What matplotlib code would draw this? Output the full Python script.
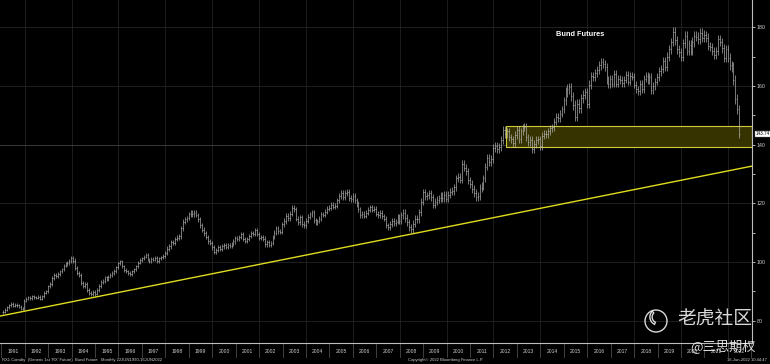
import matplotlib
matplotlib.use("Agg")
import matplotlib.pyplot as plt
import matplotlib.transforms as mtransforms
from matplotlib.patches import Rectangle, Circle, Arc

# ---------------- data ----------------
years = list(range(1991, 2023))
closes_1991 = [83.0, 83.8, 84.5, 85.3, 85.8, 85.0, 85.5, 85.2, 84.8, 84.0, 84.3, 86.8]
closes_1992 = [87.5, 88.0, 87.6, 88.3, 88.0, 87.8, 88.2, 87.5, 88.4, 89.5, 90.0, 91.8]
closes_1993 = [92.5, 94.5, 95.6, 95.2, 96.0, 96.8, 97.5, 98.8, 99.4, 99.6, 100.4, 101.5]
closes_1994 = [100.5, 98.0, 96.3, 95.5, 93.0, 91.8, 92.4, 90.5, 89.5, 89.0, 89.8, 89.2]
closes_1995 = [90.5, 91.8, 93.2, 93.5, 94.8, 94.3, 95.0, 95.6, 96.3, 97.0, 98.2, 99.5]
closes_1996 = [100.2, 98.5, 97.2, 96.8, 96.3, 96.0, 96.8, 97.5, 98.5, 99.8, 100.6, 101.2]
closes_1997 = [101.8, 102.4, 100.8, 100.2, 101.0, 100.8, 101.5, 100.4, 101.2, 101.6, 102.0, 103.2]
closes_1998 = [104.5, 105.3, 106.8, 106.5, 107.8, 108.3, 108.8, 111.5, 113.8, 114.5, 115.0, 116.2]
closes_1999 = [117.0, 116.2, 116.8, 116.0, 114.5, 112.5, 111.0, 109.8, 108.5, 107.0, 106.5, 105.0]
closes_2000 = [103.5, 104.2, 105.0, 104.5, 105.3, 105.8, 105.2, 105.8, 105.5, 106.2, 107.0, 108.2]
closes_2001 = [108.0, 108.6, 109.5, 107.8, 107.2, 107.8, 108.8, 109.8, 109.5, 110.8, 109.5, 108.3]
closes_2002 = [108.5, 108.0, 106.0, 106.8, 105.8, 106.5, 108.5, 110.0, 111.5, 110.5, 110.2, 113.0]
closes_2003 = [114.0, 115.8, 115.0, 116.5, 118.5, 118.0, 114.8, 113.5, 115.2, 113.0, 112.5, 114.0]
closes_2004 = [115.5, 116.3, 117.0, 114.2, 113.5, 114.0, 114.8, 116.2, 116.0, 117.2, 118.2, 118.5]
closes_2005 = [119.5, 118.8, 119.2, 121.0, 122.5, 123.6, 122.2, 123.5, 124.0, 121.8, 121.5, 122.5]
closes_2006 = [121.0, 119.8, 118.0, 116.0, 116.5, 115.8, 116.8, 117.8, 118.6, 117.8, 118.2, 116.5]
closes_2007 = [116.0, 116.8, 115.6, 114.8, 112.5, 111.8, 113.0, 114.0, 113.2, 113.8, 115.6, 114.0]
closes_2008 = [116.0, 116.8, 115.0, 113.5, 111.8, 111.2, 113.0, 114.8, 114.5, 117.0, 120.5, 123.8]
closes_2009 = [122.5, 122.8, 123.5, 122.0, 119.5, 120.5, 121.2, 121.8, 122.5, 121.8, 123.0, 121.5]
closes_2010 = [123.0, 124.0, 124.2, 125.5, 128.5, 129.0, 128.0, 133.5, 132.2, 131.0, 127.8, 126.5]
closes_2011 = [124.8, 123.5, 122.2, 122.5, 125.2, 126.0, 128.5, 132.5, 135.5, 134.0, 135.2, 138.8]
closes_2012 = [139.5, 138.5, 139.2, 141.5, 145.0, 143.5, 144.5, 142.5, 141.8, 140.5, 143.2, 145.0]
closes_2013 = [142.0, 144.5, 145.8, 146.0, 142.5, 141.0, 141.6, 138.5, 140.2, 141.5, 141.8, 139.5]
closes_2014 = [143.0, 143.8, 143.5, 144.5, 145.6, 146.0, 147.8, 149.5, 149.0, 150.5, 152.0, 155.2]
closes_2015 = [158.0, 159.0, 159.5, 156.5, 153.5, 149.5, 154.0, 152.5, 155.8, 157.0, 157.8, 154.0]
closes_2016 = [160.5, 163.5, 163.0, 164.5, 165.5, 167.0, 168.0, 167.5, 166.5, 162.0, 160.8, 162.5]
closes_2017 = [160.8, 164.0, 160.8, 162.5, 162.0, 161.0, 162.2, 163.8, 161.5, 163.5, 163.2, 160.5]
closes_2018 = [158.8, 158.2, 160.6, 159.0, 162.5, 163.3, 162.0, 163.0, 158.5, 160.0, 161.5, 163.2]
closes_2019 = [165.0, 165.8, 168.5, 166.5, 170.0, 172.5, 175.0, 178.5, 175.5, 172.5, 171.5, 170.0]
closes_2020 = [174.5, 177.0, 172.0, 174.0, 172.0, 175.0, 177.0, 176.8, 176.0, 178.0, 176.5, 177.4]
closes_2021 = [176.5, 173.5, 173.3, 171.8, 170.5, 172.0, 176.0, 175.0, 172.8, 169.5, 172.5, 169.5]
closes_2022 = [167.0, 166.5, 162.0, 155.5, 152.0, 143.74]
first_open = 82.8
# typical extension of monthly high/low beyond open/close, per year
wick_by_year = [0.5, 0.5, 0.6, 0.7, 0.6, 0.6, 0.6, 0.8, 0.8, 0.7, 0.7, 0.8,
                0.9, 0.8, 0.9, 0.9, 0.9, 1.2, 1.2, 1.2, 1.3, 1.3, 1.3, 1.2,
                1.6, 1.4, 1.3, 1.3, 1.5, 1.6, 1.4, 1.6]

y_major = [80, 100, 120, 140, 160, 180]
y_minor = [90, 110, 130, 150, 170]
last_price = 143.74
box_x_start = 2012.53
box_low, box_high = 139.2, 146.4
trend_x = [1990.9, 2023.1]
trend_y = [81.5, 132.8]

title = "Bund Futures"
footer_left = "RX1 Comdty  (Generic 1st 'RX' Future)  Bund Future   Monthly 22JUN1990-16JUN2022"
footer_mid = "Copyright\u00a9 2022 Bloomberg Finance L.P."
footer_right = "16-Jun-2022 10:44:47"
wm_main = "老虎社区"
wm_sub = "@三思期权"

# ---------------- build OHLC ----------------
all_closes = [closes_1991, closes_1992, closes_1993, closes_1994, closes_1995, closes_1996,
              closes_1997, closes_1998, closes_1999, closes_2000, closes_2001, closes_2002,
              closes_2003, closes_2004, closes_2005, closes_2006, closes_2007, closes_2008,
              closes_2009, closes_2010, closes_2011, closes_2012, closes_2013, closes_2014,
              closes_2015, closes_2016, closes_2017, closes_2018, closes_2019, closes_2020,
              closes_2021, closes_2022]
T, O, H, L, C = [], [], [], [], []
prev = first_open
for yi, (yr, cl) in enumerate(zip(years, all_closes)):
    w = wick_by_year[yi]
    for m, c in enumerate(cl, start=1):
        T.append(yr + m / 12 - 0.01)
        O.append(prev)
        C.append(c)
        H.append(max(prev, c) + w)
        L.append(min(prev, c) - w)
        prev = c

# ---------------- figure ----------------
plt.rcParams['font.family'] = ['Liberation Sans', 'DejaVu Sans']
W, Hh = 770, 364
fig = plt.figure(figsize=(W / 100, Hh / 100), dpi=100, facecolor='black')
ax = fig.add_axes([0, 21 / Hh, 752 / W, 343 / Hh])
ax.set_facecolor('black')
ax.set_xlim(1990.945, 2023.03)
ax.set_ylim(72.4, 189.3)

# grid
for yr in range(1992, 2023, 2):
    ax.axvline(yr, color='#222222', lw=0.6, zorder=0)
for v in y_major:
    ax.axhline(v, color='#444444' if v == 140 else '#242424', lw=0.6, zorder=0)

# box
ax.add_patch(Rectangle((box_x_start, box_low), 2023.03 - box_x_start, box_high - box_low,
                       facecolor='#363300', edgecolor='#d0c93a', lw=0.8, zorder=1))
# trend line
ax.plot(trend_x, trend_y, color='#e0dc1e', lw=1.0, zorder=2)

# OHLC bars
bar_col = '#bdbdbd'
ax.vlines(T, L, H, color=bar_col, lw=0.45, zorder=3)
ax.hlines(O, [t - 0.035 for t in T], T, color=bar_col, lw=0.4, zorder=3)
ax.hlines(C, T, [t + 0.035 for t in T], color=bar_col, lw=0.4, zorder=3)

# spines/ticks
for s in ['top', 'left']:
    ax.spines[s].set_visible(False)
ax.spines['right'].set_color('#bdbdbd')
ax.spines['right'].set_linewidth(0.8)
ax.spines['bottom'].set_color('#bdbdbd')
ax.spines['bottom'].set_linewidth(0.8)
ax.yaxis.tick_right()
ax.set_yticks(y_major)
ax.set_yticks(y_minor, minor=True)
ax.set_yticklabels([str(v) for v in y_major])
ax.tick_params(axis='y', which='both', colors='#d0d0d0', labelsize=3.8, length=2,
               width=0.6, pad=1.5, direction='out')
ax.set_xticks([])

# year labels and separators
blend = mtransforms.blended_transform_factory(ax.transData, ax.transAxes)
for yr in range(1991, 2024):
    ax.plot([yr, yr], [0, -0.04], color='#5a5a5a', lw=0.5, transform=blend, clip_on=False)
for yr in years:
    ax.text(yr + 0.5, -0.026, str(yr), transform=blend, ha='center', va='center',
            fontsize=3.6, color='#cfcfcf', clip_on=False)

# last price label
blend_y = mtransforms.blended_transform_factory(ax.transAxes, ax.transData)
ax.text(1.005, last_price, f"{last_price:.2f}", transform=blend_y, ha='left', va='center',
        fontsize=3.3, color='black', clip_on=False,
        bbox=dict(boxstyle='square,pad=0.12', facecolor='white', edgecolor='#888888', lw=0.3))

# title
ax.text(0.771, 0.898, title, transform=ax.transAxes, ha='center', va='center',
        fontsize=5.3, fontweight='bold', color='white')

# footer
fig.text(2 / W, 4 / Hh, footer_left, fontsize=3.0, color='#cfcfcf', ha='left', va='center')
fig.text(408 / W, 4 / Hh, footer_mid, fontsize=3.0, color='#cfcfcf', ha='left', va='center')
fig.text(767 / W, 4 / Hh, footer_right, fontsize=3.0, color='#cfcfcf', ha='right', va='center')

# watermark overlay (pixel coords)
ov = fig.add_axes([0, 0, 1, 1], facecolor='none')
ov.set_xlim(0, W)
ov.set_ylim(Hh, 0)
ov.axis('off')
wm_col = (1, 1, 1, 0.85)
ov.add_patch(Circle((656, 321), 11, facecolor='none', edgecolor=wm_col, lw=1.0))
ov.add_patch(Arc((658, 317), 14, 14, theta1=110, theta2=230, color=wm_col, lw=2.6))
ov.add_patch(Arc((658, 317), 14, 14, theta1=120, theta2=220, color='black', lw=0.6))
ov.text(714.5, 319, wm_main, fontsize=13.5, color=wm_col, ha='center', va='center',
        family=['Noto Sans CJK SC', 'DejaVu Sans'])
ov.text(723, 346, wm_sub, fontsize=9.5, color=wm_col, ha='center', va='center',
        family=['Noto Sans CJK SC', 'DejaVu Sans'])

fig.savefig('out.png', dpi=100, facecolor='black')
